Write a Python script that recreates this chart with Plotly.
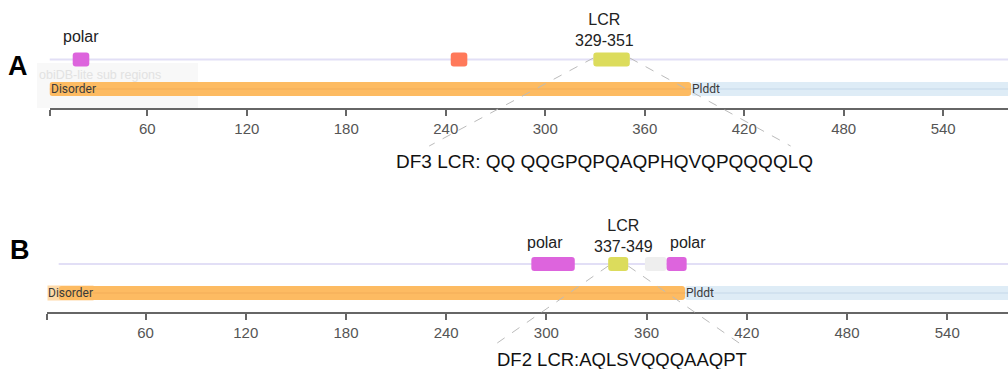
import plotly.graph_objects as go

# ---------------- data ----------------
TICK_VALS = [1, 60, 120, 180, 240, 300, 360, 420, 480, 540]
TICK_TEXT = ["", "60", "120", "180", "240", "300", "360", "420", "480", "540"]

A_feat_type = ["polar", "other", "LCR"]
A_feat_start = [15, 243, 329]
A_feat_end = [25, 253, 351]
A_feat_label = ["polar", "", "LCR<br>329-351"]
A_label_x = [20, None, 336]
A_disorder = [1, 388]
A_plddt = [388, 620]
A_seq_text = "DF3 LCR: QQ QQGPQPQAQPHQVQPQQQQLQ"

B_feat_type = ["polar", "LCR", "gap", "polar"]
B_feat_start = [291, 337, 359, 372]
B_feat_end = [317, 349, 372, 384]
B_feat_label = ["polar", "LCR<br>337-349", "", "polar"]
B_label_x = [299, 346, None, 385]
B_disorder = [8, 383]
B_plddt = [383, 620]
B_seq_text = "DF2 LCR:AQLSVQQQAAQPT"

# ---------------- style ----------------
COLORS = {"polar": "#DD64DD", "other": "#FF795A", "LCR": "#DCDC5C", "gap": "#EEEEEE"}
ORANGE = "rgb(253,187,98)"
BLUE = "#DEECF6"
H = 369
FONT = "Liberation Sans, Arial, sans-serif"

def py(px):
    return 1 - px / H

panels = [
    dict(xa="x", ya="y", feat_row=59.5, dis_row=89, ft=A_feat_type, fs=A_feat_start, fe=A_feat_end,
         fl=A_feat_label, lx=A_label_x, dis=A_disorder, pl=A_plddt, seq=A_seq_text,
         label_y=[36, None, 29.5], track_start=1,
         dash_top=58, dash_bot=146, dash_x=[230, 448], seq_x=336, seq_y=162, seq_size=19),
    dict(xa="x2", ya="y2", feat_row=264, dis_row=293, ft=B_feat_type, fs=B_feat_start, fe=B_feat_end,
         fl=B_feat_label, lx=B_label_x, dis=B_disorder, pl=B_plddt, seq=B_seq_text,
         label_y=[243, 236, None, 243], track_start=8,
         dash_top=266, dash_bot=346, dash_x=[268, 418], seq_x=345, seq_y=359, seq_size=18.5),
]

fig = go.Figure()
shapes = []
annotations = []

for i, p in enumerate(panels):
    xa, ya = p["xa"], p["ya"]
    xr = "x" if xa == "x" else "x2"
    yr = "y" if ya == "y" else "y2"
    # track line
    shapes.append(dict(type="line", xref=xr, yref=yr, x0=p["track_start"], x1=700,
                       y0=p["feat_row"], y1=p["feat_row"], line=dict(color="#E2DFF6", width=2), layer="below"))
    # disorder + plddt bars
    fig.add_trace(go.Bar(orientation="h", y=[p["dis_row"], p["dis_row"]],
                         base=[p["dis"][0], p["pl"][0]],
                         x=[p["dis"][1] - p["dis"][0], p["pl"][1] - p["pl"][0]],
                         width=14, marker=dict(color=[ORANGE, BLUE], line=dict(width=0), cornerradius=3),
                         xaxis=xa, yaxis=ya, showlegend=False, hoverinfo="skip"))
    # thin center lines through the bars
    shapes.append(dict(type="line", xref=xr, yref=yr, x0=p["dis"][0], x1=p["dis"][1],
                       y0=p["dis_row"], y1=p["dis_row"], line=dict(color="rgba(225,150,70,0.35)", width=1)))
    shapes.append(dict(type="line", xref=xr, yref=yr, x0=p["pl"][0], x1=p["pl"][1],
                       y0=p["dis_row"], y1=p["dis_row"], line=dict(color="rgba(180,205,225,0.6)", width=1)))
    # features
    fig.add_trace(go.Bar(orientation="h", y=[p["feat_row"]] * len(p["fs"]),
                         base=p["fs"], x=[e - s for s, e in zip(p["fs"], p["fe"])],
                         width=14, marker=dict(color=[COLORS[t] for t in p["ft"]], line=dict(width=0),
                                               cornerradius=3),
                         xaxis=xa, yaxis=ya, showlegend=False, hoverinfo="skip"))
    # feature labels
    for lab, lx, ly in zip(p["fl"], p["lx"], p["label_y"]):
        if lab:
            annotations.append(dict(text=lab, x=lx, y=ly, xref=xr, yref=yr, showarrow=False,
                                    xanchor="center", yanchor="middle",
                                    font=dict(family=FONT, size=16, color="#222")))
    # Disorder / Plddt labels
    annotations.append(dict(text="Disorder", x=1, y=p["dis_row"], xref=xr, yref=yr, xanchor="left",
                            yanchor="middle", showarrow=False,
                            font=dict(family="Roboto, sans-serif", size=12, color="#3a3a3a"),
                            bgcolor="rgba(253,187,98,0.55)" if i == 1 else None, borderpad=0))
    annotations.append(dict(text="Plddt", x=p["pl"][0], y=p["dis_row"], xref=xr, yref=yr, xanchor="left",
                            yanchor="middle", showarrow=False,
                            font=dict(family="Roboto, sans-serif", size=12, color="#3a3a3a"), borderpad=0))
    # dashed zoom lines from the LCR box
    lcr = p["ft"].index("LCR")
    for xs, xe in [(p["fs"][lcr], p["dash_x"][0]), (p["fe"][lcr], p["dash_x"][1])]:
        shapes.append(dict(type="line", xref=xr, yref="paper", x0=xs, x1=xe,
                           y0=py(p["dash_top"]), y1=py(p["dash_bot"]),
                           line=dict(color="#BBBBBB", width=1, dash="dash")))
    # sequence text
    annotations.append(dict(text=p["seq"], x=p["seq_x"], y=py(p["seq_y"]), xref=xr, yref="paper",
                            xanchor="center", yanchor="middle", showarrow=False,
                            font=dict(family=FONT, size=p["seq_size"], color="#111")))

# faint ghost tooltip in panel A
shapes.append(dict(type="rect", xref="paper", yref="paper", x0=37 / 1008, x1=198 / 1008,
                   y0=py(108), y1=py(63), fillcolor="rgba(235,235,235,0.35)", line=dict(width=0),
                   layer="below"))
annotations.append(dict(text="obiDB-lite sub regions", x=37 / 1008, y=py(75), xref="paper", yref="paper",
                        xanchor="left", yanchor="middle", showarrow=False,
                        font=dict(family=FONT, size=12.5, color="#E2E2E2")))

# panel letters
annotations.append(dict(text="<b>A</b>", x=18 / 1008, y=py(66), xref="paper", yref="paper", showarrow=False,
                        xanchor="center", yanchor="middle", font=dict(family=FONT, size=27, color="#000")))
annotations.append(dict(text="<b>B</b>", x=19.5 / 1008, y=py(250), xref="paper", yref="paper", showarrow=False,
                        xanchor="center", yanchor="middle", font=dict(family=FONT, size=27, color="#000")))

axis_common = dict(showgrid=False, zeroline=False, showline=True, linecolor="#666", linewidth=1.5,
                   ticks="outside", tickcolor="#666", ticklen=6, tickwidth=1.5,
                   tickvals=TICK_VALS, ticktext=TICK_TEXT,
                   tickfont=dict(family=FONT, size=15, color="#555"))

fig.update_layout(
    width=1008, height=369, margin=dict(l=0, r=0, t=0, b=0),
    paper_bgcolor="white", plot_bgcolor="white", barmode="overlay",
    xaxis=dict(domain=[49.5 / 1008, 1], range=[1, 579.1], anchor="y", **axis_common),
    yaxis=dict(domain=[py(108), 1], range=[108, 0], visible=False, anchor="x"),
    xaxis2=dict(domain=[47 / 1008, 1], range=[1, 576.4], anchor="y2", **axis_common),
    yaxis2=dict(domain=[py(312), py(200)], range=[312, 200], visible=False, anchor="x2"),
    shapes=shapes, annotations=annotations,
)

fig.write_html("out.html", config={"displayModeBar": False},
               post_script="document.body.style.margin='0px';document.body.style.overflow='hidden';")
